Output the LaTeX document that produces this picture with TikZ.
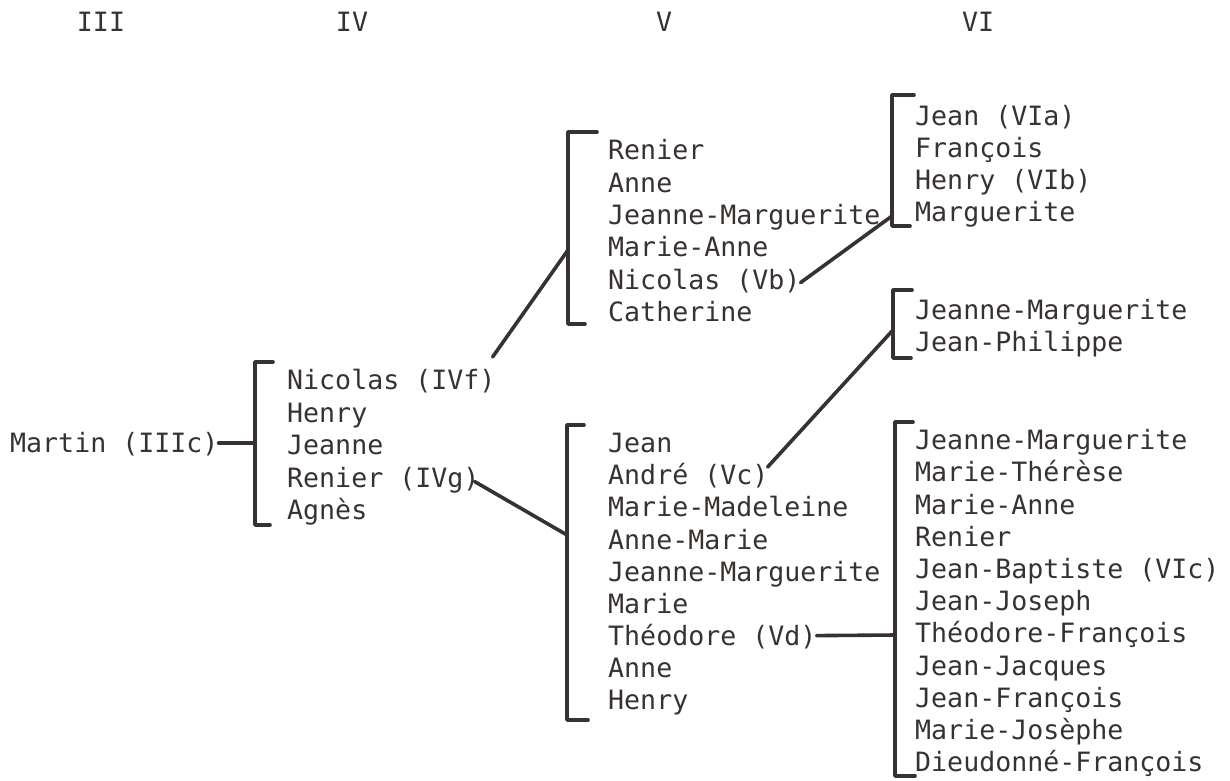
\documentclass[tikz,border=0pt]{standalone}
\usepackage{fontspec}
\setmonofont{DejaVu Sans Mono}
\usetikzlibrary{calc}
\definecolor{ink}{RGB}{55,50,48}
\begin{document}
\begin{tikzpicture}[x=1pt,y=-1pt,
  nm/.style={anchor=west,inner sep=0pt,text height=19.5pt,text depth=0pt,
    font=\ttfamily\fontsize{26.6}{32}\selectfont,text=ink},
  hd/.style={nm,anchor=center},
  ln/.style={draw=ink,line width=3.6pt,line cap=round,line join=round}]
\useasboundingbox (0,0) rectangle (1230,780);

% generation headers
\node[hd] (hIII) at (101,22) {III};
\node[hd] (hIV)  at (352,22) {IV};
\node[hd] (hV)   at (664,22) {V};
\node[hd] (hVI)  at (978,22) {VI};

% generation III
\node[nm] (m) at (10,443) {Martin (IIIc)};

% generation IV
\foreach \t [count=\i from 0] in {Nicolas (IVf),Henry,Jeanne,Renier (IVg),Agnès}
  \node[nm] (iv\i) at (287,{380+32.5*\i}) {\t};

% generation V (children of IVf)
\foreach \t [count=\i from 0] in {Renier,Anne,Jeanne-Marguerite,Marie-Anne,Nicolas (Vb),Catherine}
  \node[nm] (va\i) at (608,{150+32.4*\i}) {\t};

% generation V (children of IVg)
\foreach \t [count=\i from 0] in {Jean,André (Vc),Marie-Madeleine,Anne-Marie,Jeanne-Marguerite,Marie,Théodore (Vd),Anne,Henry}
  \node[nm] (vb\i) at (608,{443+32.1*\i}) {\t};

% generation VI (children of Vb)
\foreach \t [count=\i from 0] in {Jean (VIa),François,Henry (VIb),Marguerite}
  \node[nm] (via\i) at (915,{116+32*\i}) {\t};

% generation VI (children of Vc)
\foreach \t [count=\i from 0] in {Jeanne-Marguerite,Jean-Philippe}
  \node[nm] (vib\i) at (915,{310+32*\i}) {\t};

% generation VI (children of Vd)
\foreach \t [count=\i from 0] in {Jeanne-Marguerite,Marie-Thérèse,Marie-Anne,Renier,Jean-Baptiste (VIc),Jean-Joseph,Théodore-François,Jean-Jacques,Jean-François,Marie-Josèphe,Dieudonné-François}
  \node[nm] (vic\i) at (915,{440+32.2*\i}) {\t};

% brackets
\draw[ln] (273,362) -- (255,362) -- (255,525) -- (270,525);
\draw[ln] (597,132) -- (568,132) -- (568,324) -- (585,324);
\draw[ln] (584,425) -- (567,425) -- (567,720) -- (588,720);
\draw[ln] (914,95) -- (892,95) -- (892,226) -- (910,226);
\draw[ln] (912,290) -- (893,290) -- (893,358) -- (911,358);
\draw[ln] (913,422) -- (895,422) -- (895,776) -- (915,776);

% bracket attachment points
\coordinate (bIV) at (255,443);
\coordinate (bVa) at (568,250);
\coordinate (bVb) at (567,535);
\coordinate (bVIa) at (892,216);
\coordinate (bVIb) at (893,330);
\coordinate (bVIc) at (895,635);

% connectors
\draw[ln] (m.east) -- (bIV);
\draw[ln] ($(iv0.east)+(-3,-23)$) -- (bVa);
\draw[ln] ($(iv3.east)+(-5,4)$) -- (bVb);
\draw[ln] ($(va4.east)+(0,3)$) -- (bVIa);
\draw[ln] ($(vb1.east)+(-1,-8)$) -- (bVIb);
\draw[ln] (vb6.east) -- (bVIc);
\end{tikzpicture}
\end{document}
